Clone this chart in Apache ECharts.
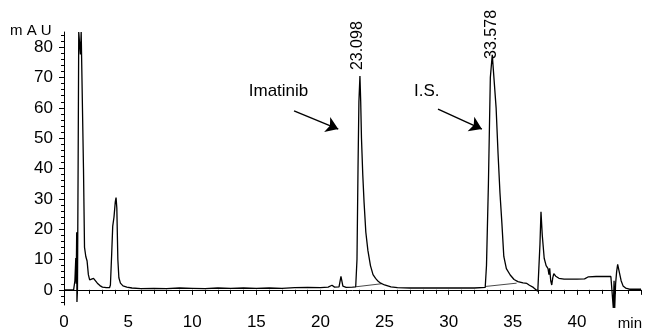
<!DOCTYPE html>
<html>
<head>
<meta charset="utf-8">
<script src="https://cdn.jsdelivr.net/npm/echarts@6/dist/echarts.min.js"></script>
<style>
  html, body { margin: 0; padding: 0; background: #fff; }
  #chart { width: 648px; height: 331px; }
</style>
</head>
<body>
<div id="chart"></div>
<script>
// retention time (min) and detector signal (mAU)
const times = [
  0, 0.75, 0.85, 0.92, 0.95, 0.99, 1.01, 1.05, 1.1, 1.15, 1.22, 1.28, 1.34, 1.45, 1.52, 1.6, 1.7, 1.8, 1.9, 2.0,
  2.15, 2.3, 2.45, 2.6, 2.8, 3.0, 3.3, 3.55, 3.62, 3.72, 3.8, 3.9, 4.0, 4.06, 4.12, 4.2, 4.28, 4.4, 4.6, 4.9,
  5.3, 6, 7, 8, 9, 10, 11, 12, 13, 14, 15, 16, 17, 18, 19, 20, 20.6, 20.9, 21.1, 21.45,
  21.6, 21.75, 22.0, 22.5, 22.75, 22.85, 22.93, 23.0, 23.08, 23.14, 23.2, 23.3, 23.4, 23.54, 23.7, 23.9, 24.1, 24.3, 24.5, 24.7,
  25.0, 25.5, 26, 27, 28, 29, 30, 31, 32, 32.85, 32.95, 33.1, 33.25, 33.4, 33.55, 33.7, 33.85, 34.0, 34.15, 34.3,
  34.5, 34.8, 35.1, 35.4, 35.8, 36.1, 36.3, 36.6, 36.95, 37.05, 37.12, 37.2, 37.3, 37.45, 37.6, 37.75, 37.82, 37.88, 37.96, 38.04,
  38.12, 38.2, 38.35, 38.6, 39, 40, 40.6, 40.9, 41.5, 42.65, 42.78, 42.84, 42.9, 42.95, 43.02, 43.1, 43.18, 43.3, 43.45, 43.6,
  43.8, 44.1, 45
];
const signal = [
  0, 0, 3, 10.5, 2, 19, -4, 0, 40, 85, 85, 77.6, 85, 85, 40, 14, 11, 9.5, 5, 3.3,
  3.2, 3.8, 3.5, 2.2, 1.4, 0.9, 0.7, 0.7, 1.6, 12, 21, 24, 29, 30.4, 27, 10, 4, 2.2, 1.3, 0.9,
  0.6, 0.4, 0.5, 0.4, 0.6, 0.5, 0.4, 0.6, 0.5, 0.6, 0.5, 0.6, 0.5, 0.7, 0.8, 0.7, 0.9, 1.5, 0.9, 1.0,
  4.4, 1.2, 0.8, 0.9, 1.0, 10, 40, 62, 70.5, 62, 50, 38, 29, 19, 13, 8, 5, 3.8, 2.8, 2.2,
  1.6, 1.0, 0.7, 0.6, 0.6, 0.6, 0.6, 0.6, 0.6, 0.8, 8, 35, 70, 77.5, 77, 60, 45, 32, 22, 11,
  7, 4.9, 3.4, 2.7, 2.3, 2.1, 1.5, 0.8, -0.5, -0.2, 15, 25.7, 18, 10.4, 8, 7, 5, 7.1, 3, 1.6,
  4, 5.3, 4.5, 3.8, 3.5, 3.5, 3.6, 4.3, 4.4, 4.4, 4, -6, 3, -6, 2, 6, 8.4, 6, 3, 1.3,
  0.6, 0.2, 0.2
];

// integration baselines under the two main peaks
const baseImatinibX = [22.75, 24.75];
const baseImatinibY = [1.0, 2.0];
const baseIsX = [32.85, 35.3];
const baseIsY = [1.1, 2.2];

const yMajor = [0, 10, 20, 30, 40, 50, 60, 70, 80];
const yMinor = [-4, -2, 2, 4, 6, 8, 12, 14, 16, 18, 22, 24, 26, 28, 32, 34, 36, 38, 42, 44, 46, 48,
  52, 54, 56, 58, 62, 64, 66, 68, 72, 74, 76, 78, 82, 84];

// retention time labels above the peaks
const peakLabels = ["23.098", "33.578"];
const peakLabelX = [22.92, 33.35];
const peakLabelY = [80.5, 84.2];

// compound names and their arrows
const names = ["Imatinib", "I.S."];
const nameX = [16.73, 28.29];
const nameY = [65.3, 65.3];
const arrowFromX = [17.94, 29.17];
const arrowFromY = [59, 59.6];
const arrowToX = [21.39, 32.59];
const arrowToY = [53, 53];

const font = "'Liberation Sans', Arial, sans-serif";

const chart = echarts.init(document.getElementById("chart"), null, { renderer: "canvas" });

const trace = times.map((t, i) => [t, signal[i]]);

chart.setOption({
  animation: false,
  backgroundColor: "#fff",
  grid: { left: 64, right: 7, top: 32, bottom: 24 },
  xAxis: {
    type: "value",
    min: 0,
    max: 45,
    interval: 5,
    axisLine: { lineStyle: { color: "#000", width: 1 } },
    axisTick: { length: 5, lineStyle: { color: "#000" } },
    minorTick: { show: true, splitNumber: 5, length: 4, lineStyle: { color: "#000" } },
    axisLabel: {
      color: "#000",
      fontSize: 17,
      fontFamily: font,
      margin: 9,
      showMaxLabel: false,
      formatter: (v) => (v === 45 ? "" : String(v)),
    },
    splitLine: { show: false },
  },
  yAxis: [
    {
      type: "value",
      min: -5,
      max: 85,
      axisLine: { show: true, lineStyle: { color: "#000", width: 1 } },
      axisTick: { show: true, length: 5, customValues: yMajor, lineStyle: { color: "#000" } },
      axisLabel: { color: "#000", fontSize: 17, fontFamily: font, margin: 11, customValues: yMajor },
      splitLine: { show: false },
    },
    {
      type: "value",
      min: -5,
      max: 85,
      position: "left",
      axisLine: { show: false },
      axisTick: { show: true, length: 3, customValues: yMinor, lineStyle: { color: "#000" } },
      axisLabel: { show: false },
      splitLine: { show: false },
    },
  ],
  series: [
    {
      type: "line",
      data: trace,
      showSymbol: false,
      clip: false,
      lineStyle: { color: "#000", width: 1.3 },
      z: 3,
      markLine: {
        silent: true,
        symbol: ["none", "arrow"],
        symbolSize: 12,
        label: { show: false },
        lineStyle: { color: "#000", width: 1.4, type: "solid" },
        data: arrowFromX.map((x, i) => [
          { coord: [x, arrowFromY[i]] },
          { coord: [arrowToX[i], arrowToY[i]] },
        ]),
      },
      markPoint: {
        silent: true,
        symbol: "circle",
        symbolSize: 0,
        itemStyle: { color: "transparent" },
        data: [
          ...peakLabels.map((txt, i) => ({
            coord: [peakLabelX[i], peakLabelY[i]],
            label: { show: true, formatter: txt, rotate: 90, fontSize: 16, color: "#000", fontFamily: font },
          })),
          ...names.map((txt, i) => ({
            coord: [nameX[i], nameY[i]],
            label: { show: true, formatter: txt, fontSize: 17, color: "#000", fontFamily: font },
          })),
        ],
      },
    },
    {
      type: "line",
      data: baseImatinibX.map((x, i) => [x, baseImatinibY[i]]),
      showSymbol: false,
      lineStyle: { color: "#333", width: 0.9 },
      z: 2,
    },
    {
      type: "line",
      data: baseIsX.map((x, i) => [x, baseIsY[i]]),
      showSymbol: false,
      lineStyle: { color: "#333", width: 0.9 },
      z: 2,
    },
  ],
  graphic: [
    {
      type: "text",
      left: 10,
      top: 23,
      style: { text: "m A U", fontSize: 15, fontFamily: font, fill: "#000" },
    },
    {
      type: "text",
      right: 6,
      top: 316,
      style: { text: "min", fontSize: 15, fontFamily: font, fill: "#000" },
    },
  ],
});
</script>
</body>
</html>
